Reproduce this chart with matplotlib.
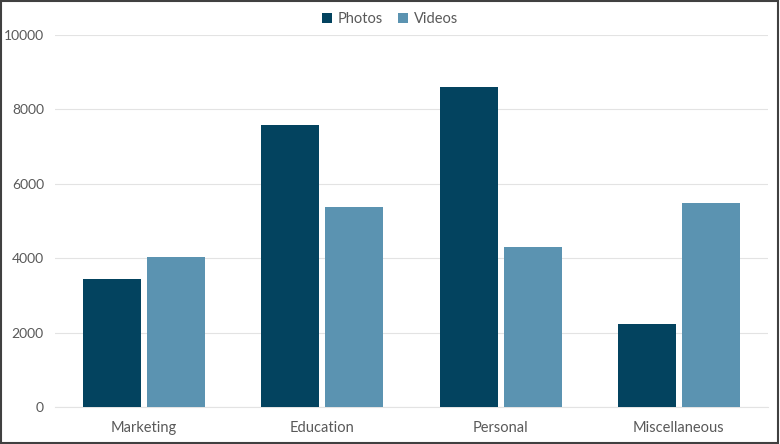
import matplotlib
matplotlib.use("Agg")
import matplotlib.pyplot as plt
import numpy as np

categories = ["Marketing", "Education", "Personal", "Miscellaneous"]
photos = [3450, 7580, 8600, 2230]
videos = [4030, 5380, 4300, 5480]
yticks = [0, 2000, 4000, 6000, 8000, 10000]

plt.rcParams['font.family'] = ['Lato', 'DejaVu Sans']

fig = plt.figure(figsize=(7.8, 4.44), dpi=100)
ax = fig.add_axes([55/780, 1-407/444, 713/780, (407-35)/444])

x = np.arange(len(categories))
w = 0.325
gap = 0.035
ax.bar(x - (w+gap)/2, photos, w, color="#03435F", label="Photos", zorder=3)
ax.bar(x + (w+gap)/2, videos, w, color="#5B93B1", label="Videos", zorder=3)

ax.set_xlim(-0.5, len(categories)-0.5)
ax.set_ylim(0, 10000)
ax.set_yticks(yticks)
ax.set_yticklabels([str(t) for t in yticks])
ax.set_xticks(x)
ax.set_xticklabels(categories)
ax.grid(axis='y', color="#E3E3E3", linewidth=0.8, zorder=0)
for s in ["top", "right", "left"]:
    ax.spines[s].set_visible(False)
ax.spines["bottom"].set_color("#E3E3E3")
ax.tick_params(axis='both', length=0, colors="#595959", labelsize=10.5)
ax.tick_params(axis='y', pad=8, labelsize=10)
ax.tick_params(axis='x', pad=10)

leg = fig.legend(loc="upper center", bbox_to_anchor=(0.5, 1.003), ncol=2, frameon=False,
                 fontsize=10.5, handlelength=0.7, handleheight=0.7, columnspacing=1.0,
                 handletextpad=0.4, labelcolor="#595959")

border = plt.Rectangle((0.001, 0.002), 0.997, 0.996, transform=fig.transFigure,
                       fill=False, edgecolor="#404040", linewidth=1.5)
fig.patches.append(border)

fig.savefig("out.png", dpi=100)
